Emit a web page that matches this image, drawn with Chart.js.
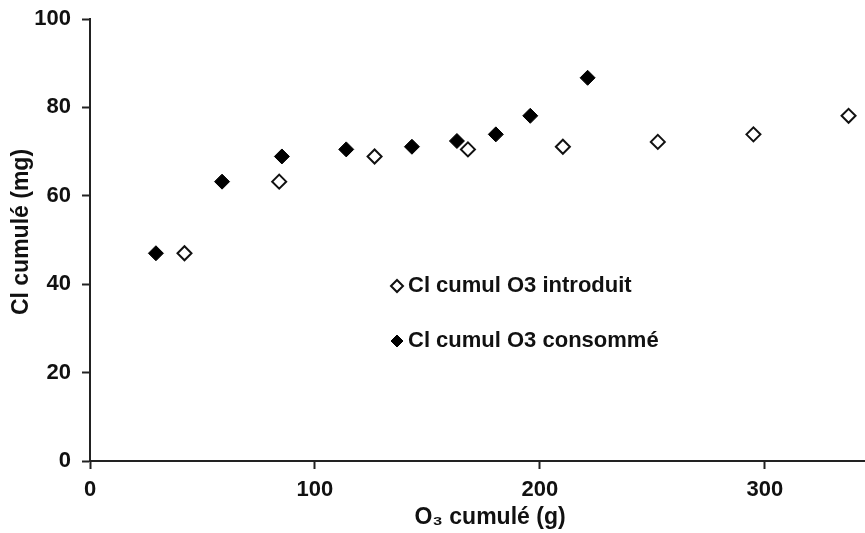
<!DOCTYPE html>
<html>
<head>
<meta charset="utf-8">
<script src="https://cdn.jsdelivr.net/npm/chart.js@4/dist/chart.umd.min.js"></script>
<style>
    html, body { margin: 0; padding: 0; background: #fff; overflow: hidden; }
    /* a bit wider than the window: the x axis runs off the right edge, as in the original */
    #wrap { position: relative; width: 874px; height: 533px; }
    canvas { display: block; }
</style>
</head>
<body>
<div id="wrap"><canvas id="clChart"></canvas></div>
<script>
// Cl cumulé vs O3 cumulé
const introduitX = [42.0, 84.1, 126.5, 168.0, 210.2, 252.4, 294.9, 337.2];
const introduitY = [47.0, 63.2, 68.9, 70.5, 71.1, 72.2, 73.9, 78.1];
const consommeX = [29.3, 58.7, 85.3, 113.9, 143.1, 163.1, 180.4, 195.7, 221.2];
const consommeY = [47.0, 63.2, 68.9, 70.5, 71.1, 72.4, 73.9, 78.1, 86.7];
const seriesLabels = ['Cl cumul O3 introduit', 'Cl cumul O3 consommé'];
const xTicks = [0, 100, 200, 300];
const yTicks = [0, 20, 40, 60, 80, 100];
const xTitle = 'O₃ cumulé (g)';
const yTitle = 'Cl cumulé (mg)';

const FONT = '"Liberation Sans", Arial, sans-serif';
const INK = '#111';

const toPoints = (xs, ys) => xs.map((x, i) => ({ x: x, y: ys[i] }));

// legend drawn inside the plot, like the original
const insideLegend = {
    id: 'insideLegend',
    afterDraw(chart, args, opts) {
        const ctx = chart.ctx;
        ctx.save();
        chart.data.datasets.forEach((ds, i) => {
            const y = opts.y[i];
            ctx.fillStyle = ds.backgroundColor;
            ctx.strokeStyle = ds.borderColor;
            ctx.lineWidth = ds.borderWidth;
            ctx.beginPath();
            ctx.moveTo(opts.x - 6, y);
            ctx.lineTo(opts.x, y - 6);
            ctx.lineTo(opts.x + 6, y);
            ctx.lineTo(opts.x, y + 6);
            ctx.closePath();
            ctx.fill();
            ctx.stroke();
            ctx.fillStyle = INK;
            ctx.font = 'bold 22px ' + FONT;
            ctx.textBaseline = 'middle';
            ctx.textAlign = 'left';
            ctx.fillText(ds.label, opts.x + 11, y);
        });
        ctx.restore();
    }
};

// axis titles, placed a little off-centre as in the original
const axisTitles = {
    id: 'axisTitles',
    afterDraw(chart, args, opts) {
        const ctx = chart.ctx;
        ctx.save();
        ctx.fillStyle = INK;
        ctx.font = 'bold 23px ' + FONT;
        ctx.textAlign = 'center';
        ctx.textBaseline = 'middle';
        ctx.fillText(xTitle, opts.xPos[0], opts.xPos[1]);
        ctx.translate(opts.yPos[0], opts.yPos[1]);
        ctx.rotate(-Math.PI / 2);
        ctx.fillText(yTitle, 0, 0);
        ctx.restore();
    }
};

const noPad = scale => {
    scale.paddingTop = 0;
    scale.paddingBottom = 0;
    scale.paddingLeft = 0;
    scale.paddingRight = 0;
};

const ctx = document.getElementById('clChart');
new Chart(ctx, {
    type: 'scatter',
    data: {
        datasets: [
            {
                label: seriesLabels[0],
                data: toPoints(introduitX, introduitY),
                pointStyle: 'rectRot',
                pointRadius: 7,
                backgroundColor: '#fff',
                borderColor: INK,
                borderWidth: 2
            },
            {
                label: seriesLabels[1],
                data: toPoints(consommeX, consommeY),
                pointStyle: 'rectRot',
                pointRadius: 7.5,
                backgroundColor: '#000',
                borderColor: '#000',
                borderWidth: 1
            }
        ]
    },
    options: {
        responsive: true,
        maintainAspectRatio: false,
        animation: false,
        layout: { padding: { top: 19, right: 0, bottom: 0, left: 0 } },
        plugins: {
            legend: { display: false },
            tooltip: { enabled: false },
            insideLegend: { x: 397, y: [286, 341] },
            axisTitles: { xPos: [490, 518], yPos: [22, 232] }
        },
        scales: {
            x: {
                type: 'linear',
                min: 0,
                max: 344.5,
                afterBuildTicks: axis => { axis.ticks = xTicks.map(v => ({ value: v })); },
                afterFit: scale => { scale.height = 72; noPad(scale); },
                grid: { drawOnChartArea: false, tickLength: 8, tickColor: '#222', tickWidth: 2 },
                border: { color: '#222', width: 2 },
                ticks: { color: INK, padding: 8, font: { family: FONT, size: 22, weight: 'bold' } }
            },
            y: {
                min: 0,
                max: 100,
                afterBuildTicks: axis => { axis.ticks = yTicks.map(v => ({ value: v })); },
                afterFit: scale => { scale.width = 90; noPad(scale); },
                grid: { drawOnChartArea: false, tickLength: 8, tickColor: '#222', tickWidth: 2 },
                border: { color: '#222', width: 2 },
                ticks: { color: INK, padding: 11, font: { family: FONT, size: 22, weight: 'bold' } }
            }
        }
    },
    plugins: [insideLegend, axisTitles]
});
</script>
</body>
</html>
